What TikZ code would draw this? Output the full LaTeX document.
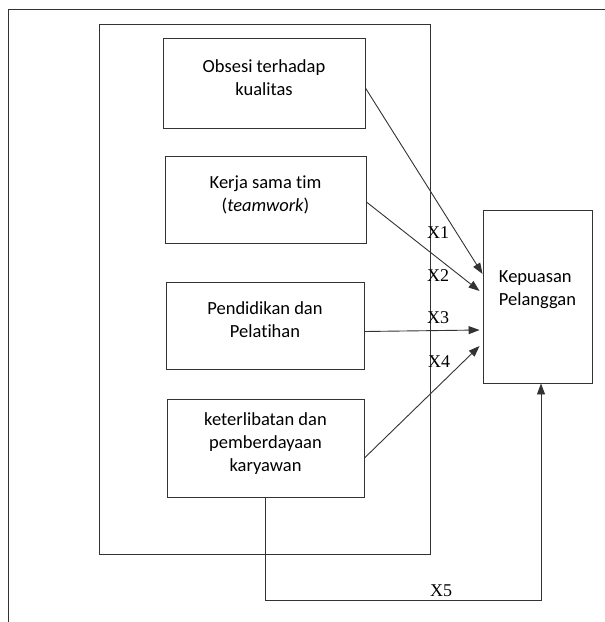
\documentclass[tikz,border=0pt]{standalone}
\usepackage{fontspec}
\setmainfont{Carlito}[Ligatures=NoCommon, Contextuals=NoAlternate]
\newfontfamily\serifx{Liberation Serif}
\usetikzlibrary{positioning, arrows.meta}
\tikzstyle{garis} = [draw=black!80, line width=0.9pt]
\tikzstyle{wadah} = [garis, rectangle, minimum width=331pt, minimum height=530pt]
\tikzstyle{kotak} = [garis, rectangle, align=center, inner sep=0pt, text depth=11pt, font=\fontsize{18.5}{23}\selectfont]
\tikzstyle{panah} = [garis, -{Triangle[length=11pt,width=8pt]}]
\tikzstyle{labelx} = [anchor=west, inner sep=0pt, font=\serifx\fontsize{18}{18}\selectfont]

\begin{document}
\begin{tikzpicture}[x=1pt, y=1pt]
	\useasboundingbox (0,0) rectangle (605,-622);
	% bingkai luar
	\draw[garis] (605,-9) -- (8.5,-9) -- (8.5,-622);
	\node [wadah] (wadah) at (264.5,-289) {};
	% variabel bebas
	\node [kotak, minimum width=202pt, minimum height=90pt] (obsesi) at (264,-83) {Obsesi terhadap\\kualitas};
	\node [kotak, minimum width=201pt, minimum height=87pt] (kerja) at (265.5,-199.5) {Kerja sama tim\\(\textit{teamwork})};
	\node [kotak, minimum width=198pt, minimum height=87pt] (pendidikan) at (265,-325.5) {Pendidikan dan\\Pelatihan};
	\node [kotak, minimum width=197pt, minimum height=98pt] (keterlibatan) at (265.5,-448) {keterlibatan dan\\pemberdayaan\\karyawan};
	% variabel terikat
	\node [kotak, align=left, minimum width=109pt, minimum height=173pt, text depth=17pt] (kepuasan) at (537.5,-296.5) {Kepuasan\\Pelanggan};
	% panah
	\draw[panah] ([yshift=-5pt]obsesi.east) -- ([yshift=22.5pt]kepuasan.west);
	\draw[panah] ([yshift=-2.5pt]kerja.east) -- ([xshift=-3pt, yshift=5.5pt]kepuasan.west);
	\draw[panah] ([yshift=-6pt]pendidikan.east) -- ([xshift=-3pt, yshift=-33.5pt]kepuasan.west);
	\draw[panah] ([yshift=-10pt]keterlibatan.east) -- ([xshift=-3pt, yshift=-49.5pt]kepuasan.west);
	\draw[panah] (keterlibatan.south) -- ++(0,-103) coordinate (sudut) -| ([xshift=3.5pt]kepuasan.south);
	% label
	\node [labelx] (x1) at (427,-233) {X1};
	\node [labelx] (x2) at (427,-276) {X2};
	\node [labelx] (x3) at (427,-318) {X3};
	\node [labelx] (x4) at (428,-362) {X4};
	\node [labelx] (x5) at (430,-591) {X5};
\end{tikzpicture}
\end{document}
